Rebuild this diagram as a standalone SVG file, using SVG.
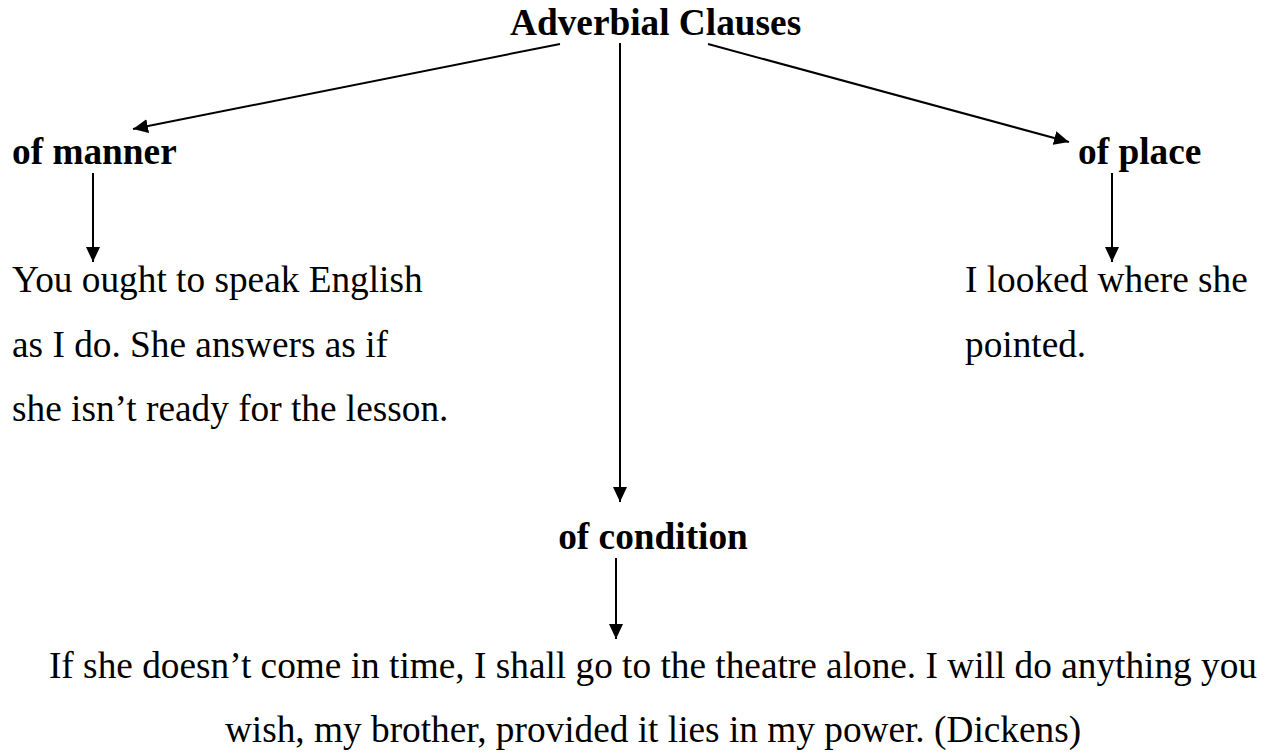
<svg xmlns="http://www.w3.org/2000/svg" width="1277" height="753" viewBox="0 0 1277 753">
  <style>
    text { font-family: "Liberation Serif", "Times New Roman", serif; font-size: 37.3px; fill: #000; }
    .head { font-weight: bold; }
    .link { stroke: #000; stroke-width: 2; fill: none; marker-end: url(#arrow); }
  </style>
  <defs>
    <marker id="arrow" viewBox="0 0 15 14" refX="15" refY="7" markerWidth="15" markerHeight="14" markerUnits="userSpaceOnUse" orient="auto">
      <path d="M0,0 L15,7 L0,14 Z" fill="#000"/>
    </marker>
  </defs>
  <rect width="1277" height="753" fill="#fff"/>

  <g id="connectors">
    <line class="link" x1="560" y1="44" x2="133" y2="129"/>
    <line class="link" x1="620" y1="43" x2="620" y2="502"/>
    <line class="link" x1="708" y1="44" x2="1069" y2="142"/>
    <line class="link" x1="93" y1="173" x2="93" y2="262"/>
    <line class="link" x1="1112" y1="173" x2="1112" y2="262"/>
    <line class="link" x1="616" y1="558" x2="616" y2="639"/>
  </g>

  <g id="root">
    <text class="head" x="510" y="35">Adverbial Clauses</text>
  </g>

  <g id="manner">
    <text class="head" x="12" y="164">of manner</text>
  </g>
  <g id="manner-example">
    <text x="12" y="292">You ought to speak English</text>
    <text x="12" y="357">as I do. She answers as if</text>
    <text x="12" y="421">she isn’t ready for the lesson.</text>
  </g>

  <g id="place">
    <text class="head" x="1078" y="164">of place</text>
  </g>
  <g id="place-example">
    <text x="965" y="292">I looked where she</text>
    <text x="965" y="357">pointed.</text>
  </g>

  <g id="condition">
    <text class="head" x="653" y="549" text-anchor="middle">of condition</text>
  </g>
  <g id="condition-example">
    <text x="653" y="678" text-anchor="middle">If she doesn’t come in time, I shall go to the theatre alone. I will do anything you</text>
    <text x="653" y="742" text-anchor="middle">wish, my brother, provided it lies in my power. (Dickens)</text>
  </g>
</svg>
